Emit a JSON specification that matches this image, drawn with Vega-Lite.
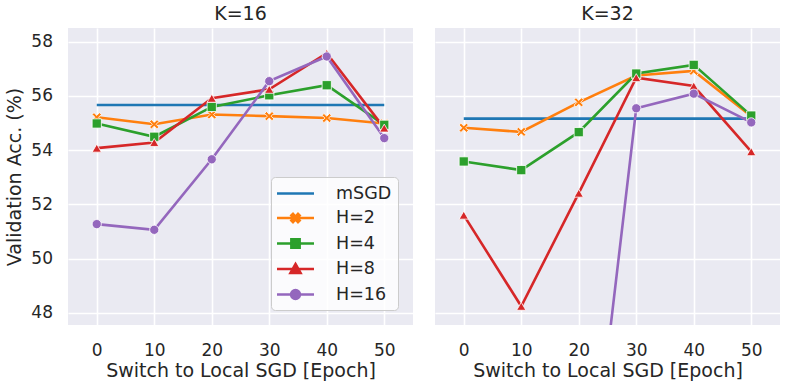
{
  "$schema": "https://vega.github.io/schema/vega-lite/v6.json",
  "background": "white",
  "config": {
    "font": "DejaVu Sans",
    "view": {"fill": "#eaeaf2", "stroke": null},
    "axis": {
      "domain": false, "ticks": false, "tickSize": 0,
      "gridColor": "white", "gridWidth": 1.6, "gridOpacity": 1,
      "labelFont": "DejaVu Sans", "labelFontSize": 17, "labelColor": "#262626",
      "titleFont": "DejaVu Sans", "titleFontSize": 19, "titleFontWeight": "normal", "titleColor": "#262626"
    },
    "axisX": {"labelPadding": 17, "titlePadding": 3},
    "axisY": {"labelPadding": 15.5, "titlePadding": 6},
    "title": {"font": "DejaVu Sans", "fontSize": 19, "fontWeight": "normal", "color": "#262626", "anchor": "middle", "offset": 4}
  },
  "datasets": {
    "d": [
      {"K": "K=16", "series": "mSGD", "x": 0, "y": 55.66},
      {"K": "K=16", "series": "mSGD", "x": 10, "y": 55.66},
      {"K": "K=16", "series": "mSGD", "x": 20, "y": 55.66},
      {"K": "K=16", "series": "mSGD", "x": 30, "y": 55.66},
      {"K": "K=16", "series": "mSGD", "x": 40, "y": 55.66},
      {"K": "K=16", "series": "mSGD", "x": 50, "y": 55.66},
      {"K": "K=16", "series": "H=2", "x": 0, "y": 55.21},
      {"K": "K=16", "series": "H=2", "x": 10, "y": 54.95},
      {"K": "K=16", "series": "H=2", "x": 20, "y": 55.31},
      {"K": "K=16", "series": "H=2", "x": 30, "y": 55.25},
      {"K": "K=16", "series": "H=2", "x": 40, "y": 55.18},
      {"K": "K=16", "series": "H=2", "x": 50, "y": 54.98},
      {"K": "K=16", "series": "H=4", "x": 0, "y": 54.98},
      {"K": "K=16", "series": "H=4", "x": 10, "y": 54.49},
      {"K": "K=16", "series": "H=4", "x": 20, "y": 55.59},
      {"K": "K=16", "series": "H=4", "x": 30, "y": 56.02},
      {"K": "K=16", "series": "H=4", "x": 40, "y": 56.39},
      {"K": "K=16", "series": "H=4", "x": 50, "y": 54.93},
      {"K": "K=16", "series": "H=8", "x": 0, "y": 54.07},
      {"K": "K=16", "series": "H=8", "x": 10, "y": 54.28},
      {"K": "K=16", "series": "H=8", "x": 20, "y": 55.91},
      {"K": "K=16", "series": "H=8", "x": 30, "y": 56.24},
      {"K": "K=16", "series": "H=8", "x": 40, "y": 57.57},
      {"K": "K=16", "series": "H=8", "x": 50, "y": 54.81},
      {"K": "K=16", "series": "H=16", "x": 0, "y": 51.27},
      {"K": "K=16", "series": "H=16", "x": 10, "y": 51.06},
      {"K": "K=16", "series": "H=16", "x": 20, "y": 53.66},
      {"K": "K=16", "series": "H=16", "x": 30, "y": 56.54},
      {"K": "K=16", "series": "H=16", "x": 40, "y": 57.45},
      {"K": "K=16", "series": "H=16", "x": 50, "y": 54.44},
      {"K": "K=32", "series": "mSGD", "x": 0, "y": 55.16},
      {"K": "K=32", "series": "mSGD", "x": 10, "y": 55.16},
      {"K": "K=32", "series": "mSGD", "x": 20, "y": 55.16},
      {"K": "K=32", "series": "mSGD", "x": 30, "y": 55.16},
      {"K": "K=32", "series": "mSGD", "x": 40, "y": 55.16},
      {"K": "K=32", "series": "mSGD", "x": 50, "y": 55.16},
      {"K": "K=32", "series": "H=2", "x": 0, "y": 54.82},
      {"K": "K=32", "series": "H=2", "x": 10, "y": 54.67},
      {"K": "K=32", "series": "H=2", "x": 20, "y": 55.76},
      {"K": "K=32", "series": "H=2", "x": 30, "y": 56.75},
      {"K": "K=32", "series": "H=2", "x": 40, "y": 56.92},
      {"K": "K=32", "series": "H=2", "x": 50, "y": 55.25},
      {"K": "K=32", "series": "H=4", "x": 0, "y": 53.58},
      {"K": "K=32", "series": "H=4", "x": 10, "y": 53.26},
      {"K": "K=32", "series": "H=4", "x": 20, "y": 54.66},
      {"K": "K=32", "series": "H=4", "x": 30, "y": 56.82},
      {"K": "K=32", "series": "H=4", "x": 40, "y": 57.14},
      {"K": "K=32", "series": "H=4", "x": 50, "y": 55.27},
      {"K": "K=32", "series": "H=8", "x": 0, "y": 51.6},
      {"K": "K=32", "series": "H=8", "x": 10, "y": 48.24},
      {"K": "K=32", "series": "H=8", "x": 20, "y": 52.41},
      {"K": "K=32", "series": "H=8", "x": 30, "y": 56.67},
      {"K": "K=32", "series": "H=8", "x": 40, "y": 56.36},
      {"K": "K=32", "series": "H=8", "x": 50, "y": 53.94},
      {"K": "K=32", "series": "H=16", "x": 20, "y": 37.5},
      {"K": "K=32", "series": "H=16", "x": 30, "y": 55.54},
      {"K": "K=32", "series": "H=16", "x": 40, "y": 56.08},
      {"K": "K=32", "series": "H=16", "x": 50, "y": 55.02}
    ]
  },
  "data": {"name": "d"},
  "spacing": 22,
  "resolve": {"legend": {"color": "independent"}},
  "hconcat": [
    {
      "width": 345, "height": 297,
      "title": {"text": "K=16"},
      "transform": [{"filter": "datum.K === 'K=16'"}],
      "layer": [
        {
          "mark": {"type": "line", "clip": true, "strokeWidth": 2.6},
          "encoding": {
            "x": {"field": "x", "type": "quantitative", "scale": {"domain": [-5, 55], "nice": false, "zero": false}, "axis": {"values": [0, 10, 20, 30, 40, 50], "title": "Switch to Local SGD [Epoch]"}},
            "y": {"field": "y", "type": "quantitative", "scale": {"domain": [47.55, 58.5], "nice": false, "zero": false}, "axis": {"values": [48, 50, 52, 54, 56, 58], "title": "Validation Acc. (%)"}},
            "color": {
              "field": "series", "type": "nominal",
              "scale": {"domain": ["mSGD", "H=2", "H=4", "H=8", "H=16"], "range": ["#1f77b4", "#ff7f0e", "#2ca02c", "#d62728", "#9467bd"]},
              "legend": {
                "title": null, "orient": "bottom-right", "offset": 15,
                "fillColor": "rgba(255,255,255,0.8)", "strokeColor": "#cccccc", "cornerRadius": 4, "padding": 6,
                "labelFont": "DejaVu Sans", "labelFontSize": 17.5, "labelColor": "#262626",
                "symbolSize": 342, "symbolOffset": 8, "labelOffset": 30, "rowPadding": 5.5,
                "encode": {
                  "symbols": {
                    "update": {
                      "shape": {"signal": "datum.value === 'mSGD' ? 'M-2,0L2,0' : datum.value === 'H=2' ? 'M-2,0L2,0M-0.45,-0.27L-0.27,-0.45L0,-0.16L0.27,-0.45L0.45,-0.27L0.16,0L0.45,0.27L0.27,0.45L0,0.16L-0.27,0.45L-0.45,0.27L-0.16,0Z' : datum.value === 'H=4' ? 'M-2,0L2,0M-0.45,-0.45L0.45,-0.45L0.45,0.45L-0.45,0.45Z' : datum.value === 'H=8' ? 'M-2,0L2,0M0,-0.55L0.55,0.42L-0.55,0.42Z' : 'M-2,0L2,0M-0.48,0A0.48,0.48,0,1,0,0.48,0A0.48,0.48,0,1,0,-0.48,0Z'"},
                      "fill": {"signal": "datum.value === 'mSGD' ? 'transparent' : scale('color', datum.value)"},
                      "stroke": {"signal": "scale('color', datum.value)"},
                      "strokeWidth": {"value": 2.5},
                      "opacity": {"value": 1}
                    }
                  }
                }
              }
            }
          }
        },
        {
          "transform": [{"filter": "datum.series !== 'mSGD'"}],
          "mark": {"type": "point", "filled": true, "clip": true, "size": 85, "stroke": "white", "strokeWidth": 0.8, "opacity": 1},
          "encoding": {
            "x": {"field": "x", "type": "quantitative"},
            "y": {"field": "y", "type": "quantitative"},
            "color": {"field": "series", "type": "nominal"},
            "shape": {"field": "series", "type": "nominal", "scale": {"domain": ["H=2", "H=4", "H=8", "H=16"], "range": ["M-1,-0.6L-0.6,-1L0,-0.4L0.6,-1L1,-0.6L0.4,0L1,0.6L0.6,1L0,0.4L-0.6,1L-1,0.6L-0.4,0Z", "square", "triangle-up", "circle"]}, "legend": null}
          }
        }
      ]
    },
    {
      "width": 345, "height": 297,
      "title": {"text": "K=32"},
      "transform": [{"filter": "datum.K === 'K=32'"}],
      "layer": [
        {
          "mark": {"type": "line", "clip": true, "strokeWidth": 2.6},
          "encoding": {
            "x": {"field": "x", "type": "quantitative", "scale": {"domain": [-5, 55], "nice": false, "zero": false}, "axis": {"values": [0, 10, 20, 30, 40, 50], "title": "Switch to Local SGD [Epoch]"}},
            "y": {"field": "y", "type": "quantitative", "scale": {"domain": [47.55, 58.5], "nice": false, "zero": false}, "axis": {"values": [48, 50, 52, 54, 56, 58], "labels": false, "title": null, "labelPadding": 0}},
            "color": {"field": "series", "type": "nominal", "scale": {"domain": ["mSGD", "H=2", "H=4", "H=8", "H=16"], "range": ["#1f77b4", "#ff7f0e", "#2ca02c", "#d62728", "#9467bd"]}, "legend": null}
          }
        },
        {
          "transform": [{"filter": "datum.series !== 'mSGD'"}],
          "mark": {"type": "point", "filled": true, "clip": true, "size": 85, "stroke": "white", "strokeWidth": 0.8, "opacity": 1},
          "encoding": {
            "x": {"field": "x", "type": "quantitative"},
            "y": {"field": "y", "type": "quantitative"},
            "color": {"field": "series", "type": "nominal", "legend": null},
            "shape": {"field": "series", "type": "nominal", "scale": {"domain": ["H=2", "H=4", "H=8", "H=16"], "range": ["M-1,-0.6L-0.6,-1L0,-0.4L0.6,-1L1,-0.6L0.4,0L1,0.6L0.6,1L0,0.4L-0.6,1L-1,0.6L-0.4,0Z", "square", "triangle-up", "circle"]}, "legend": null}
          }
        }
      ]
    }
  ]
}
